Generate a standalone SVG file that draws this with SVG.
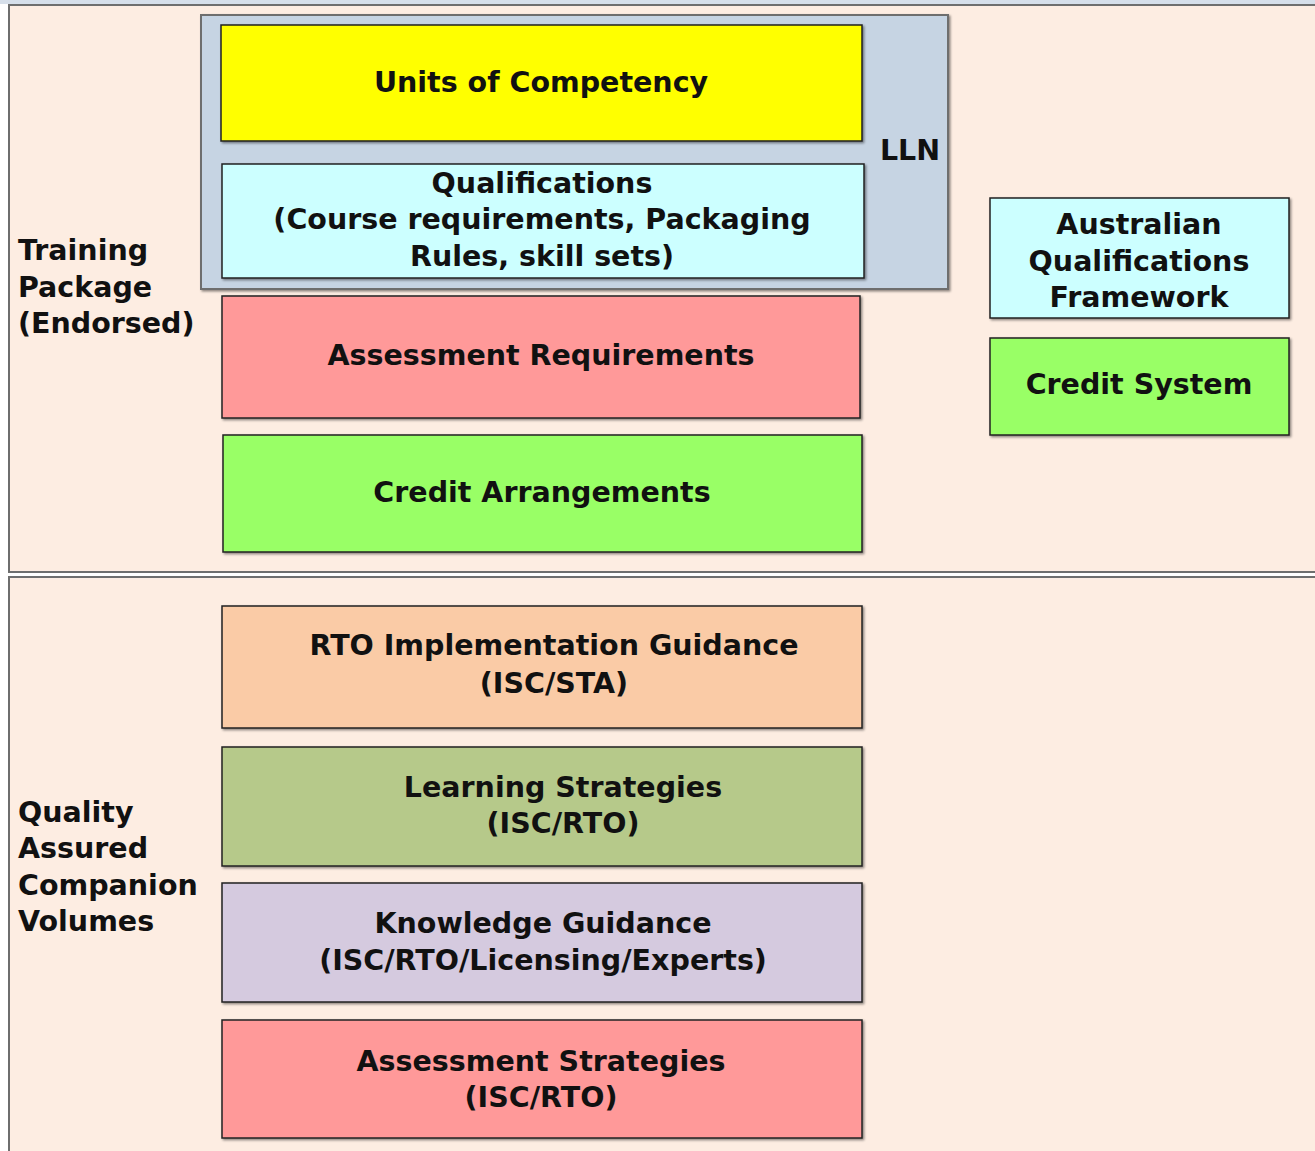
<svg xmlns="http://www.w3.org/2000/svg" width="1315" height="1151" viewBox="0 0 1315 1151">
<defs>
<filter id="sh" x="-5%" y="-5%" width="110%" height="110%">
<feDropShadow dx="1.5" dy="1.5" stdDeviation="0.8" flood-color="#000" flood-opacity="0.45"/>
</filter>
</defs>
<style>
.panel{fill:#FDEDE2;stroke:#6E6E6E;stroke-width:2}
.box{stroke:#222;stroke-width:1.5;filter:url(#sh)}
text{font-family:"DejaVu Sans",Verdana,sans-serif;font-weight:bold;font-size:28.5px;fill:#111}
.c{text-anchor:middle;dominant-baseline:central}
.l{text-anchor:start}
</style>
<rect x="0" y="0" width="1315" height="1151" fill="#fff"/>
<rect x="0" y="0" width="1315" height="4" fill="#D6DFEA"/>
<g id="panel-training">
<rect class="panel" x="9" y="5" width="1310" height="567"/>
<text class="l" x="18" y="260">Training</text>
<text class="l" x="18" y="297">Package</text>
<text class="l" x="18" y="333">(Endorsed)</text>
</g>
<g id="panel-companion">
<rect class="panel" x="9" y="577" width="1310" height="580"/>
<text class="l" x="18" y="822">Quality</text>
<text class="l" x="18" y="858">Assured</text>
<text class="l" x="18" y="895">Companion</text>
<text class="l" x="18" y="931">Volumes</text>
</g>
<g id="lln">
<rect x="201" y="15" width="747" height="274" fill="#C6D4E3" stroke="#6E6E6E" stroke-width="2" filter="url(#sh)"/>
<text class="c" x="910" y="150">LLN</text>
</g>
<g id="units">
<rect class="box" x="221" y="25" width="641" height="116" fill="#FFFF00"/>
<text class="c" x="541" y="82">Units of Competency</text>
</g>
<g id="qualifications">
<rect class="box" x="222" y="164" width="642" height="114" fill="#CCFFFF"/>
<text class="c" x="542" y="183">Qualifications</text>
<text class="c" x="542" y="219">(Course requirements, Packaging</text>
<text class="c" x="542" y="256">Rules, skill sets)</text>
</g>
<g id="assessment-requirements">
<rect class="box" x="222" y="296" width="638" height="122" fill="#FF9999"/>
<text class="c" x="541" y="355">Assessment Requirements</text>
</g>
<g id="credit-arrangements">
<rect class="box" x="223" y="435" width="639" height="117" fill="#99FF66"/>
<text class="c" x="542" y="492">Credit Arrangements</text>
</g>
<g id="aqf">
<rect class="box" x="990" y="198" width="299" height="120" fill="#CCFFFF"/>
<text class="c" x="1139" y="224">Australian</text>
<text class="c" x="1139" y="261">Qualifications</text>
<text class="c" x="1139" y="297">Framework</text>
</g>
<g id="credit-system">
<rect class="box" x="990" y="338" width="299" height="97" fill="#99FF66"/>
<text class="c" x="1139" y="384">Credit System</text>
</g>
<g id="rto">
<rect class="box" x="222" y="606" width="640" height="122" fill="#FACBA6"/>
<text class="c" x="554" y="645">RTO Implementation Guidance</text>
<text class="c" x="554" y="683">(ISC/STA)</text>
</g>
<g id="learning">
<rect class="box" x="222" y="747" width="640" height="119" fill="#B6C98A"/>
<text class="c" x="563" y="787">Learning Strategies</text>
<text class="c" x="563" y="823">(ISC/RTO)</text>
</g>
<g id="knowledge">
<rect class="box" x="222" y="883" width="640" height="119" fill="#D5CADF"/>
<text class="c" x="543" y="923">Knowledge Guidance</text>
<text class="c" x="543" y="960">(ISC/RTO/Licensing/Experts)</text>
</g>
<g id="assessment-strategies">
<rect class="box" x="222" y="1020" width="640" height="118" fill="#FF9999"/>
<text class="c" x="541" y="1061">Assessment Strategies</text>
<text class="c" x="541" y="1097">(ISC/RTO)</text>
</g>
<g id="connectors"/>
</svg>
